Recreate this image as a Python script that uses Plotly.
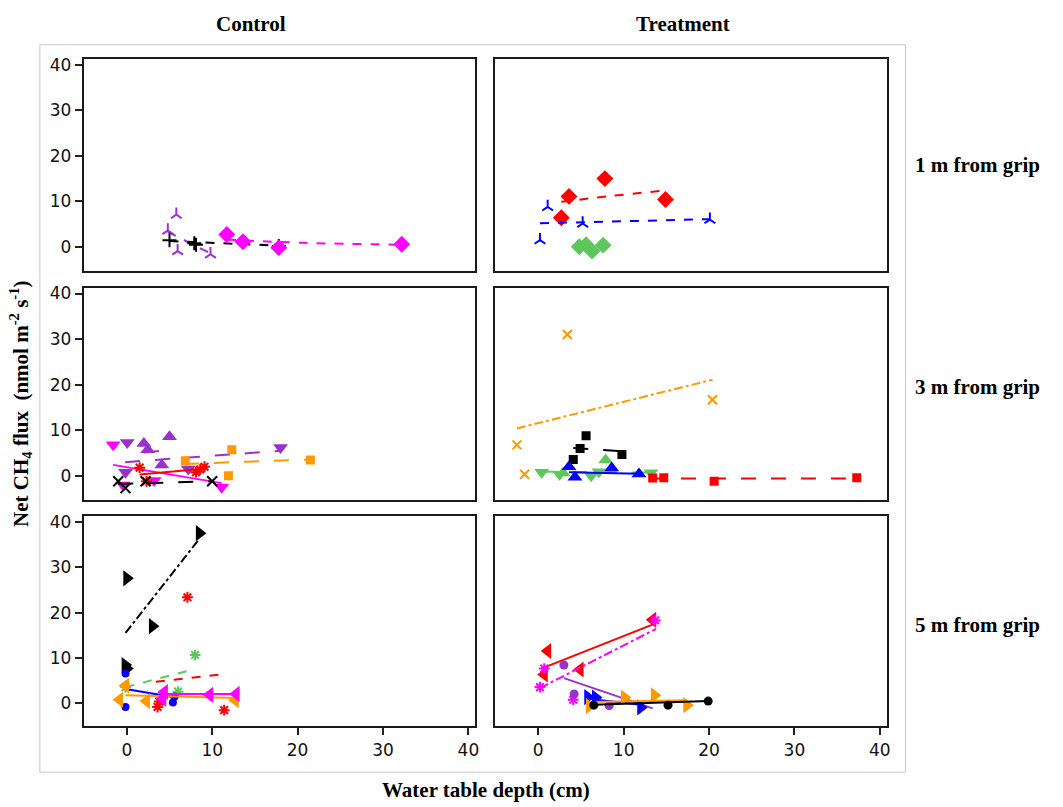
import plotly.graph_objects as go

# ---------------- data ----------------
# Row 1 : 1 m from grip
C1_PURPLE_X = [4.8, 5.8, 5.95, 9.8]
C1_PURPLE_Y = [3.6, 7.1, -0.9, -1.6]
C1_PURPLE_FX = [4.8, 9.8]
C1_PURPLE_FY = [3.3, -1.4]
C1_BLACK_X = [5.0, 7.9, 8.1, 17.8]
C1_BLACK_Y = [1.5, 0.8, 0.5, 0.2]
C1_BLACK_FX = [5.0, 17.8]
C1_BLACK_FY = [1.3, 0.3]
C1_MAGENTA_X = [11.7, 13.6, 17.8, 32.2]
C1_MAGENTA_Y = [2.75, 1.15, -0.15, 0.6]
C1_MAGENTA_FX = [11.7, 20.9, 32.2]
C1_MAGENTA_FY = [1.6, 0.9, 0.5]

T1_RED_X = [2.7, 3.6, 7.8, 14.9]
T1_RED_Y = [6.4, 11.1, 15.0, 10.4]
T1_RED_FX = [2.7, 8.1, 14.9]
T1_RED_FY = [9.9, 11.1, 12.4]
T1_BLUE_X = [0.2, 1.1, 5.2, 20.1]
T1_BLUE_Y = [1.5, 8.8, 5.15, 6.0]
T1_BLUE_FX = [0.2, 20.1]
T1_BLUE_FY = [5.2, 6.1]
T1_GREEN_X = [4.8, 5.6, 6.3, 7.6]
T1_GREEN_Y = [0.05, 0.5, -0.9, 0.4]

# Row 2 : 3 m from grip
C2_MAGENTA_X = [-1.6, -0.45, 3.2, 11.1]
C2_MAGENTA_Y = [6.8, -2.0, -1.0, -2.5]
C2_MAGENTA_FX = [-1.6, 11.1]
C2_MAGENTA_FY = [2.4, -1.6]
C2_PURPLE_DN_X = [0.05, -0.15, 7.2, 18.0]
C2_PURPLE_DN_Y = [7.3, 0.8, 1.5, 6.2]
C2_PURPLE_DN_FX = [-0.2, 18.0]
C2_PURPLE_DN_FY = [3.0, 5.5]
C2_PURPLE_UP_X = [2.0, 2.45, 5.0, 4.1]
C2_PURPLE_UP_Y = [7.1, 5.7, 8.6, 2.4]
C2_PURPLE_UP_FX = [2.0, 5.0]
C2_PURPLE_UP_FY = [5.1, 5.7]
C2_RED_X = [1.5, 2.3, 8.1, 9.1, 8.6]
C2_RED_Y = [1.8, -1.2, 0.8, 2.0, 1.4]
C2_RED_FX = [1.5, 9.3]
C2_RED_FY = [0.3, 1.6]
C2_BLACK_X = [-1.0, -0.15, 2.2, 10.0]
C2_BLACK_Y = [-1.2, -2.7, -1.2, -1.2]
C2_BLACK_FX = [-1.0, 10.0]
C2_BLACK_FY = [-1.8, -1.2]
C2_ORANGE_X = [6.85, 12.3, 11.9, 21.5]
C2_ORANGE_Y = [3.3, 5.7, 0.0, 3.5]
C2_ORANGE_FX = [6.7, 21.5]
C2_ORANGE_FY = [2.6, 3.6]

T2_ORANGE_X = [3.4, 20.4, -2.5, -1.6]
T2_ORANGE_Y = [31.0, 16.7, 6.8, 0.35]
T2_ORANGE_FX = [-2.5, 20.4]
T2_ORANGE_FY = [10.4, 21.1]
T2_BLACK_X = [5.6, 4.9, 4.1, 9.8]
T2_BLACK_Y = [8.8, 6.0, 3.6, 4.7]
T2_BLACK_FX = [4.1, 9.8]
T2_BLACK_FY = [6.1, 5.4]
T2_GREEN_DN_X = [0.4, 2.5, 6.2, 7.1, 13.2]
T2_GREEN_DN_Y = [0.8, 0.35, 0.0, 0.9, 0.7]
T2_GREEN_UP_X = [2.9, 7.9]
T2_GREEN_UP_Y = [0.6, 3.5]
T2_GREEN_FX = [0.4, 13.2]
T2_GREEN_FY = [0.9, 0.7]
T2_BLUE_X = [3.6, 4.3, 8.6, 11.8]
T2_BLUE_Y = [2.0, -0.3, 1.7, 0.4]
T2_BLUE_FX = [3.6, 11.8]
T2_BLUE_FY = [0.8, 0.45]
T2_RED_X = [13.4, 14.7, 20.6, 37.3]
T2_RED_Y = [-0.5, -0.4, -1.2, -0.4]
T2_RED_FX = [13.2, 37.3]
T2_RED_FY = [-0.6, -0.6]

# Row 3 : 5 m from grip
C3_BLACK_X = [0.0, 8.5, 3.0, -0.2, 0.0]
C3_BLACK_Y = [27.6, 37.6, 17.0, 8.4, 7.6]
C3_BLACK_FX = [-0.15, 8.4]
C3_BLACK_FY = [15.5, 36.1]
C3_RED_X = [7.1, 3.6, 3.8, 11.4]
C3_RED_Y = [23.4, -0.9, 0.3, -1.6]
C3_RED_FX = [3.4, 11.4]
C3_RED_FY = [4.7, 6.4]
C3_GREEN_X = [8.0, -0.15, 6.0]
C3_GREEN_Y = [10.6, 3.5, 2.5]
C3_GREEN_FX = [-0.15, 8.0]
C3_GREEN_FY = [3.5, 7.5]
C3_BLUE_X = [-0.15, -0.15, 5.4, 5.6]
C3_BLUE_Y = [6.5, -0.9, 0.1, 1.4]
C3_BLUE_FX = [-0.15, 5.4]
C3_BLUE_FY = [3.1, 1.3]
C3_ORANGE_X = [-0.85, 2.3, -0.15, 12.7]
C3_ORANGE_Y = [0.7, 0.4, 3.8, 0.6]
C3_ORANGE_FX = [-0.15, 12.7]
C3_ORANGE_FY = [1.7, 1.1]
C3_MAGENTA_X = [4.4, 4.2, 9.7, 12.8]
C3_MAGENTA_Y = [2.4, 0.9, 1.8, 2.0]
C3_MAGENTA_FX = [4.2, 12.8]
C3_MAGENTA_FY = [2.0, 2.0]

T3_RED_X = [1.1, 0.7, 4.9, 13.4]
T3_RED_Y = [11.5, 6.3, 7.4, 18.4]
T3_RED_FX = [0.5, 13.6]
T3_RED_FY = [7.7, 17.5]
T3_MAGENTA_X = [13.7, 0.7, 0.2, 4.1]
T3_MAGENTA_Y = [18.3, 7.6, 3.5, 0.7]
T3_MAGENTA_FX = [0.2, 13.8]
T3_MAGENTA_FY = [3.3, 16.4]
T3_PURPLE_X = [3.0, 4.2, 8.3]
T3_PURPLE_Y = [8.4, 2.0, -0.6]
T3_PURPLE_FX = [3.0, 13.4]
T3_PURPLE_FY = [5.5, -1.2]
T3_BLUE_X = [5.8, 6.7, 12.0]
T3_BLUE_Y = [1.3, 1.2, -1.0]
T3_BLUE_FX = [5.8, 12.0]
T3_BLUE_FY = [0.9, -0.4]
T3_ORANGE_X = [10.1, 13.6, 17.4, 6.0]
T3_ORANGE_Y = [1.2, 1.7, -0.5, -0.7]
T3_ORANGE_FX = [6.0, 17.4]
T3_ORANGE_FY = [0.2, 0.6]
T3_BLACK_X = [6.5, 15.2, 19.9]
T3_BLACK_Y = [-0.5, -0.5, 0.4]
T3_BLACK_FX = [6.5, 19.9]
T3_BLACK_FY = [-0.4, 0.4]

X_TICKS = [0, 10, 20, 30, 40]
Y_TICKS = [0, 10, 20, 30, 40]
COL_TITLES = ["Control", "Treatment"]
ROW_TITLES = ["1 m from grip", "3 m from grip", "5 m from grip"]

# ---------------- styles ----------------
MAGENTA = "#FF00FF"
PURPLE = "#9932CC"
RED = "#FF0000"
BLUE = "#0000FF"
GREEN = "#5CC85C"
ORANGE = "#FF9900"
BLACK = "#000000"

# (panel, color, symbol, size, xs, ys, fit xs, fit ys, dash)
SERIES = [
    (1, PURPLE, "y-up-open", 9, C1_PURPLE_X, C1_PURPLE_Y, C1_PURPLE_FX, C1_PURPLE_FY, "dash"),
    (1, BLACK, "cross-thin-open", 10, C1_BLACK_X, C1_BLACK_Y, C1_BLACK_FX, C1_BLACK_FY, "dash"),
    (1, MAGENTA, "diamond", 13, C1_MAGENTA_X, C1_MAGENTA_Y, C1_MAGENTA_FX, C1_MAGENTA_FY, "dash"),
    (2, RED, "diamond", 13, T1_RED_X, T1_RED_Y, T1_RED_FX, T1_RED_FY, "dash"),
    (2, BLUE, "y-up-open", 9, T1_BLUE_X, T1_BLUE_Y, T1_BLUE_FX, T1_BLUE_FY, "dash"),
    (2, GREEN, "diamond", 13, T1_GREEN_X, T1_GREEN_Y, None, None, None),
    (3, MAGENTA, "triangle-down", 13, C2_MAGENTA_X, C2_MAGENTA_Y, C2_MAGENTA_FX, C2_MAGENTA_FY, "solid"),
    (3, PURPLE, "triangle-down", 13, C2_PURPLE_DN_X, C2_PURPLE_DN_Y, C2_PURPLE_DN_FX, C2_PURPLE_DN_FY, "longdash"),
    (3, PURPLE, "triangle-up", 13, C2_PURPLE_UP_X, C2_PURPLE_UP_Y, C2_PURPLE_UP_FX, C2_PURPLE_UP_FY, "longdash"),
    (3, RED, "asterisk-open", 9, C2_RED_X, C2_RED_Y, C2_RED_FX, C2_RED_FY, "solid"),
    (3, BLACK, "x-thin-open", 10, C2_BLACK_X, C2_BLACK_Y, C2_BLACK_FX, C2_BLACK_FY, "longdash"),
    (3, ORANGE, "square", 9, C2_ORANGE_X, C2_ORANGE_Y, C2_ORANGE_FX, C2_ORANGE_FY, "longdash"),
    (4, ORANGE, "x-thin-open", 9, T2_ORANGE_X, T2_ORANGE_Y, T2_ORANGE_FX, T2_ORANGE_FY, "dashdot"),
    (4, BLACK, "square", 9, T2_BLACK_X, T2_BLACK_Y, T2_BLACK_FX, T2_BLACK_FY, "longdash"),
    (4, GREEN, "triangle-down", 13, T2_GREEN_DN_X, T2_GREEN_DN_Y, T2_GREEN_FX, T2_GREEN_FY, "longdash"),
    (4, GREEN, "triangle-up", 13, T2_GREEN_UP_X, T2_GREEN_UP_Y, None, None, None),
    (4, BLUE, "triangle-up", 13, T2_BLUE_X, T2_BLUE_Y, T2_BLUE_FX, T2_BLUE_FY, "solid"),
    (4, RED, "square", 9, T2_RED_X, T2_RED_Y, T2_RED_FX, T2_RED_FY, "longdash"),
    (5, BLACK, "triangle-right", 14, C3_BLACK_X, C3_BLACK_Y, C3_BLACK_FX, C3_BLACK_FY, "dashdot"),
    (5, RED, "asterisk-open", 9, C3_RED_X, C3_RED_Y, C3_RED_FX, C3_RED_FY, "dash"),
    (5, GREEN, "asterisk-open", 9, C3_GREEN_X, C3_GREEN_Y, C3_GREEN_FX, C3_GREEN_FY, "dash"),
    (5, BLUE, "circle", 8, C3_BLUE_X, C3_BLUE_Y, C3_BLUE_FX, C3_BLUE_FY, "solid"),
    (5, ORANGE, "triangle-left", 14, C3_ORANGE_X, C3_ORANGE_Y, C3_ORANGE_FX, C3_ORANGE_FY, "solid"),
    (5, MAGENTA, "triangle-left", 14, C3_MAGENTA_X, C3_MAGENTA_Y, C3_MAGENTA_FX, C3_MAGENTA_FY, "solid"),
    (6, RED, "triangle-left", 14, T3_RED_X, T3_RED_Y, T3_RED_FX, T3_RED_FY, "solid"),
    (6, MAGENTA, "asterisk-open", 9, T3_MAGENTA_X, T3_MAGENTA_Y, T3_MAGENTA_FX, T3_MAGENTA_FY, "dashdot"),
    (6, PURPLE, "circle", 9, T3_PURPLE_X, T3_PURPLE_Y, T3_PURPLE_FX, T3_PURPLE_FY, "solid"),
    (6, BLUE, "triangle-right", 14, T3_BLUE_X, T3_BLUE_Y, T3_BLUE_FX, T3_BLUE_FY, "solid"),
    (6, ORANGE, "triangle-right", 14, T3_ORANGE_X, T3_ORANGE_Y, T3_ORANGE_FX, T3_ORANGE_FY, "solid"),
    (6, BLACK, "circle", 9, T3_BLACK_X, T3_BLACK_Y, T3_BLACK_FX, T3_BLACK_FY, "solid"),
]

W, H = 1063, 807
X_DOM = [(84 / W, 477 / W), (497 / W, 890 / W)]
Y_DOM = [(1 - 268 / H, 1 - 55 / H), (1 - 498 / H, 1 - 285 / H), (1 - 726 / H, 1 - 515 / H)]

fig = go.Figure()

for panel, color, sym, size, xs, ys, fx, fy, dash in SERIES:
    sfx = "" if panel == 1 else str(panel)
    if fx is not None:
        fig.add_trace(go.Scatter(
            x=fx, y=fy, mode="lines", xaxis="x" + sfx, yaxis="y" + sfx,
            line=dict(color=color, width=2, dash=dash, shape="spline"),
            showlegend=False, hoverinfo="skip"))
    fig.add_trace(go.Scatter(
        x=xs, y=ys, mode="markers", xaxis="x" + sfx, yaxis="y" + sfx,
        marker=dict(color=color, symbol=sym, size=size,
                    line=dict(color=color, width=2 if "open" in sym else 0)),
        showlegend=False))

tick_font = dict(family="DejaVu Sans", size=17, color="#111111")
layout = dict(
    width=W, height=H,
    margin=dict(l=0, r=0, t=0, b=0),
    paper_bgcolor="white", plot_bgcolor="white",
    showlegend=False,
)
for r in range(3):
    for c in range(2):
        idx = r * 2 + c + 1
        sfx = "" if idx == 1 else str(idx)
        layout["xaxis" + sfx] = dict(
            domain=X_DOM[c], anchor="y" + sfx, range=[-5.05, 40.8],
            tickvals=X_TICKS, showticklabels=(r == 2),
            ticks="outside" if r == 2 else "", ticklen=7, tickwidth=2, tickcolor="#222",
            showline=True, linecolor="#1a1a1a", linewidth=2, mirror=True,
            showgrid=False, zeroline=False, tickfont=tick_font, fixedrange=True)
        layout["yaxis" + sfx] = dict(
            domain=Y_DOM[r], anchor="x" + sfx, range=[-5.2, 41.3],
            tickvals=Y_TICKS, showticklabels=(c == 0),
            ticks="outside" if c == 0 else "", ticklen=7, tickwidth=2, tickcolor="#222",
            showline=True, linecolor="#1a1a1a", linewidth=2, mirror=True,
            showgrid=False, zeroline=False, tickfont=tick_font, fixedrange=True)
fig.update_layout(**layout)

title_font = dict(family="Liberation Serif", size=21, color="black")
ann = []
for c, t in enumerate(COL_TITLES):
    ann.append(dict(text="<b>%s</b>" % t, x=[252 / W, 686 / W][c], y=1 - 20 / H,
                    xref="paper", yref="paper", showarrow=False, font=title_font,
                    xanchor="center", yanchor="middle"))
for r, t in enumerate(ROW_TITLES):
    ann.append(dict(text="<b>%s</b>" % t, x=916 / W, y=1 - [162, 385, 624][r] / H,
                    xref="paper", yref="paper", showarrow=False, font=title_font,
                    xanchor="left", yanchor="middle"))
ann.append(dict(text="<b>Water table depth (cm)</b>", x=488 / W, y=1 - 790 / H,
                xref="paper", yref="paper", showarrow=False, font=title_font,
                xanchor="center", yanchor="middle"))
ann.append(dict(text="<b>Net CH<sub>4</sub> flux  (nmol m<sup>-2</sup> s<sup>-1</sup>)</b>",
                x=20 / W, y=1 - 401 / H, textangle=-90,
                xref="paper", yref="paper", showarrow=False, font=title_font,
                xanchor="center", yanchor="middle"))
fig.update_layout(annotations=ann)

fig.add_shape(type="rect", xref="paper", yref="paper",
              x0=40 / W, x1=909 / W, y0=1 - 772 / H, y1=1 - 41 / H,
              line=dict(color="#C8C8C8", width=1), fillcolor="rgba(0,0,0,0)", layer="below")

fig.write_html("out.html")
